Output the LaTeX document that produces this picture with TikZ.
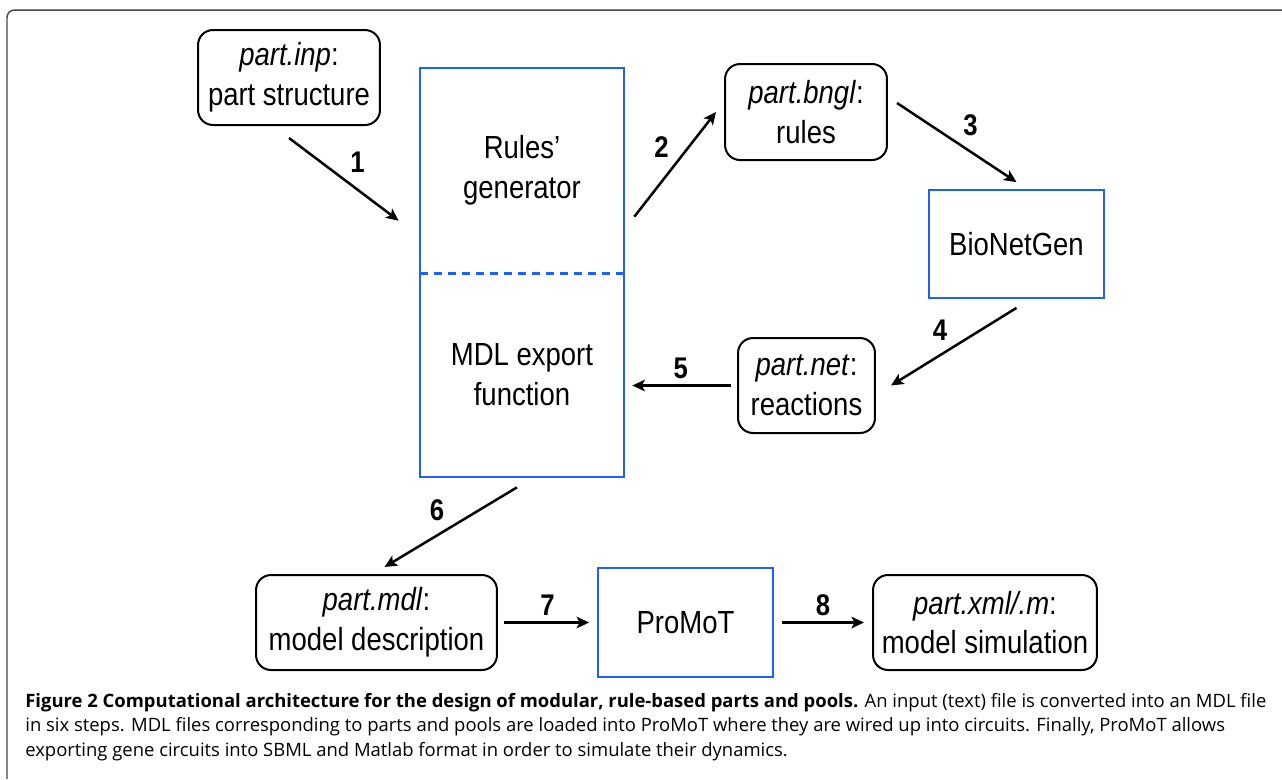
\documentclass[tikz,border=0pt]{standalone}
\usepackage{fontspec}
\newfontfamily\figfont[FakeStretch=0.86]{Liberation Sans}
\newfontfamily\capfont{Open Sans}
\usepackage{tikz}
\usetikzlibrary{arrows.meta,%
                calc,%
                positioning}

\definecolor{toolblue}{RGB}{30,96,255}
\definecolor{framegray}{RGB}{70,70,70}

\tikzstyle{FileStyle}=[draw, rounded corners=0.3cm, line width=0.04cm, align=center,
  inner sep=0pt, font=\figfont\fontsize{18.2}{22.7}\selectfont]
\tikzstyle{ToolStyle}=[draw=toolblue, line width=0.036cm, align=center,
  inner sep=0pt, font=\figfont\fontsize{18.2}{22.7}\selectfont]
\tikzstyle{HalfStyle}=[align=center, inner sep=0pt, minimum width=4.08cm,
  font=\figfont\fontsize{18.2}{22.7}\selectfont]
\tikzstyle{EdgeStyle}=[-{Stealth[length=0.25cm,width=0.23cm,inset=0.06cm]}, line width=0.05cm]
\tikzstyle{StepStyle}=[inner sep=3pt, font=\figfont\bfseries\fontsize{17}{20}\selectfont]
\tikzstyle{CapStyle}=[anchor=base west, inner sep=0pt, font=\capfont\fontsize{10.5}{13}\selectfont]

\begin{document}
\begin{tikzpicture}[x=0.02cm, y=-0.02cm]

  \useasboundingbox (0,0) rectangle (1282,779);
  \draw[framegray, line width=0.03cm, rounded corners=0.15cm] (1282,10) -- (7,10) -- (7,779);

  % files
  \node[FileStyle, minimum width=3.64cm, minimum height=1.90cm] (inp) at (289,77.5)
    {\textit{part.inp}:\\part structure};
  \node[FileStyle, minimum width=3.24cm, minimum height=1.92cm] (bngl) at (806,112)
    {\textit{part.bngl}:\\rules};
  \node[FileStyle, minimum width=2.74cm, minimum height=1.90cm] (net) at (806.5,385.5)
    {\textit{part.net}:\\reactions};
  \node[FileStyle, minimum width=4.82cm, minimum height=1.90cm] (mdl) at (376.5,622.5)
    {\textit{part.mdl}:\\model description};
  \node[FileStyle, minimum width=4.48cm, minimum height=1.90cm] (xml) at (985,622.5)
    {\textit{part.xml/.m}:\\model simulation};

  % tools
  \node[HalfStyle, minimum height=4.10cm] (gen) at (522,170.5) {Rules’\\generator};
  \node[HalfStyle, minimum height=4.08cm] (exp) at (522,375) {MDL export\\function};
  \draw[toolblue, line width=0.036cm] (gen.north west) rectangle (exp.south east);
  \draw[toolblue, line width=0.06cm, dash pattern=on 0.16cm off 0.12cm] (gen.south west) -- (gen.south east);

  \node[ToolStyle, minimum width=3.50cm, minimum height=2.16cm] (bng) at (1016.5,244) {BioNetGen};
  \node[ToolStyle, minimum width=3.50cm, minimum height=2.18cm] (promot) at (685.5,622.5) {ProMoT};

  % steps
  \draw[EdgeStyle] ($(inp.south)+(0,12)$) -- node[StepStyle, above right] {1} ($(gen.north west)+(-21,153)$);
  \draw[EdgeStyle] ($(gen.north east)+(10,149)$) -- node[StepStyle, above left] {2} ($(bngl.west)+(-8,0)$);
  \draw[EdgeStyle] ($(bngl.east)+(9,-9)$) -- node[StepStyle, above right] {3} ($(bng.north)+(0,-7)$);
  \draw[EdgeStyle] ($(bng.south)+(0,9)$) -- node[StepStyle, above left] {4} ($(net.east)+(15,0)$);
  \draw[EdgeStyle, shorten <=0.12cm, shorten >=0.16cm] (net.west) -- node[StepStyle, above] {5} (net.west -| exp.east);
  \draw[EdgeStyle] ($(exp.south)+(-5,10)$) -- node[StepStyle, above left] {6} ($(mdl.north)+(8,-7)$);
  \draw[EdgeStyle, shorten <=0.12cm, shorten >=0.16cm] (mdl.east) -- node[StepStyle, above] {7} (promot.west);
  \draw[EdgeStyle, shorten <=0.16cm, shorten >=0.16cm] (promot.east) -- node[StepStyle, above] {8} (xml.west);

  % caption
  \node[CapStyle] (cap1) at (25,707) {\textbf{Figure 2 Computational architecture for the design of modular, rule-based parts and pools.} An input (text) file is converted into an MDL file};
  \node[CapStyle] (cap2) at (25,731) {in six steps. MDL files corresponding to parts and pools are loaded into ProMoT where they are wired up into circuits. Finally, ProMoT allows};
  \node[CapStyle] (cap3) at (25,756) {exporting gene circuits into SBML and Matlab format in order to simulate their dynamics.};

\end{tikzpicture}
\end{document}
